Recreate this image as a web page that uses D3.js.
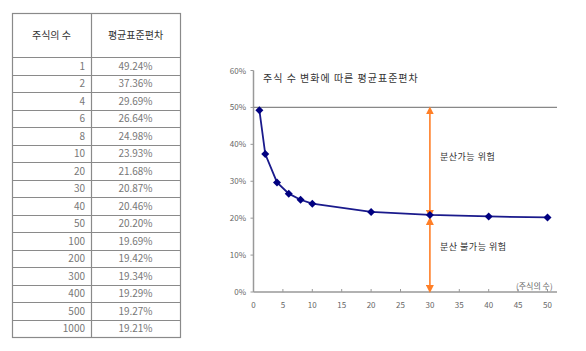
<!DOCTYPE html>
<html>
<head>
<meta charset="utf-8">
<script src="https://cdn.jsdelivr.net/npm/d3@7"></script>
<style>
  body { margin: 0; background: #fff; }
  svg text { font-family: "Noto Sans CJK KR", "Noto Sans", sans-serif; }
</style>
</head>
<body>
<div id="chart"></div>
<script>
// table data
var stockCounts = [1, 2, 4, 6, 8, 10, 20, 30, 40, 50, 100, 200, 300, 400, 500, 1000];
var avgStdDev = [49.24, 37.36, 29.69, 26.64, 24.98, 23.93, 21.68, 20.87, 20.46, 20.2, 19.69, 19.42, 19.34, 19.29, 19.27, 19.21];
var tableHeaders = ["주식의 수", "평균표준편차"];

// chart settings
var chartTitle = "주식 수 변화에 따른 평균표준편차";
var xTicks = [0, 5, 10, 15, 20, 25, 30, 35, 40, 45, 50];
var yTicks = [0, 10, 20, 30, 40, 50, 60];
var totalRiskLevel = 50;
var markerStocks = 30;
var labelDiversifiable = "분산가능 위험";
var labelSystematic = "분산 불가능 위험";
var xAxisLabel = "(주식의 수)";

var W = 586, H = 351;
var svg = d3.select("#chart").append("svg").attr("width", W).attr("height", H);

// ---- table ----
var tLeft = 12, tMid = 91, tRight = 180, tTop = 13, headH = 44, rowH = 17.5;
var tbl = svg.append("g");
var rowY = d3.scaleLinear().domain([0, stockCounts.length]).range([tTop + headH, tTop + headH + rowH * stockCounts.length]);
var tBottom = rowY(stockCounts.length);

tbl.append("rect").attr("x", tLeft + 0.5).attr("y", tTop + 0.5)
  .attr("width", tRight - tLeft).attr("height", tBottom - tTop)
  .attr("fill", "none").attr("stroke", "#8a8a8a").attr("stroke-width", 1.2);
tbl.append("line").attr("x1", tMid + 0.5).attr("x2", tMid + 0.5).attr("y1", tTop).attr("y2", tBottom)
  .attr("stroke", "#8a8a8a").attr("stroke-width", 1.2);
tbl.selectAll(".hl").data(d3.range(stockCounts.length)).enter().append("line")
  .attr("x1", tLeft).attr("x2", tRight)
  .attr("y1", function (d) { return Math.round(rowY(d)) + 0.5; })
  .attr("y2", function (d) { return Math.round(rowY(d)) + 0.5; })
  .attr("stroke", "#8a8a8a").attr("stroke-width", 1);

tbl.append("text").attr("x", (tLeft + tMid) / 2).attr("y", tTop + headH / 2 + 4)
  .attr("text-anchor", "middle").attr("font-size", 10).attr("fill", "#333").text(tableHeaders[0]);
tbl.append("text").attr("x", (tMid + tRight) / 2).attr("y", tTop + headH / 2 + 4)
  .attr("text-anchor", "middle").attr("font-size", 10).attr("fill", "#333").text(tableHeaders[1]);

tbl.selectAll(".cnt").data(stockCounts).enter().append("text")
  .attr("x", tMid - 6)
  .attr("y", function (d, i) { return rowY(i) + rowH / 2 + 4; })
  .attr("text-anchor", "end").attr("font-size", 10).attr("fill", "#777")
  .text(function (d) { return d; });
tbl.selectAll(".sd").data(avgStdDev).enter().append("text")
  .attr("x", (tMid + tRight) / 2)
  .attr("y", function (d, i) { return rowY(i) + rowH / 2 + 4; })
  .attr("text-anchor", "middle").attr("font-size", 10).attr("fill", "#777")
  .text(function (d) { return d.toFixed(2) + "%"; });

// ---- chart ----
var chartData = stockCounts.map(function (d, i) { return { n: d, sd: avgStdDev[i] }; })
  .filter(function (d) { return d.n <= 50; });

var x = d3.scaleLinear().domain([0, 50]).range([253.5, 547.5]);
var y = d3.scaleLinear().domain([0, 60]).range([292, 70.5]);
var plotRight = 557;
var g = svg.append("g");

// y axis
g.append("line").attr("x1", x(0)).attr("x2", x(0)).attr("y1", y(60)).attr("y2", y(0))
  .attr("stroke", "#999").attr("stroke-width", 1.5);
g.selectAll(".yt").data(yTicks).enter().append("line")
  .attr("x1", x(0) - 3).attr("x2", x(0))
  .attr("y1", function (d) { return y(d); }).attr("y2", function (d) { return y(d); })
  .attr("stroke", "#999");
g.selectAll(".yl").data(yTicks).enter().append("text")
  .attr("x", 246).attr("y", function (d) { return y(d) + 3; })
  .attr("text-anchor", "end").attr("font-size", 8).attr("fill", "#666")
  .text(function (d) { return d + "%"; });

// x axis
g.append("line").attr("x1", x(0)).attr("x2", plotRight).attr("y1", y(0)).attr("y2", y(0))
  .attr("stroke", "#999").attr("stroke-width", 1.5);
g.selectAll(".xt").data(xTicks).enter().append("line")
  .attr("x1", function (d) { return x(d); }).attr("x2", function (d) { return x(d); })
  .attr("y1", y(0) - 3).attr("y2", y(0))
  .attr("stroke", "#999");
g.selectAll(".xl").data(xTicks).enter().append("text")
  .attr("x", function (d) { return x(d); }).attr("y", y(0) + 16)
  .attr("text-anchor", "middle").attr("font-size", 8).attr("fill", "#666")
  .text(function (d) { return d; });

// 50% reference line
g.append("line").attr("x1", x(0)).attr("x2", plotRight)
  .attr("y1", y(totalRiskLevel)).attr("y2", y(totalRiskLevel))
  .attr("stroke", "#888").attr("stroke-width", 1.2);

// title
g.append("text").attr("x", 263).attr("y", 82).attr("font-size", 10).attr("fill", "#333")
  .attr("letter-spacing", 1).text(chartTitle);

// orange arrows
var defs = svg.append("defs");
function head(id, orient) {
  defs.append("marker").attr("id", id).attr("viewBox", "0 0 6 6").attr("refX", 3).attr("refY", 3)
    .attr("markerWidth", 5).attr("markerHeight", 5).attr("orient", orient)
    .append("path").attr("d", "M0,0L6,3L0,6Z").attr("fill", "#ff7f27");
}
head("arrEnd", "auto");
head("arrStart", "auto-start-reverse");
var sys = chartData.find(function (d) { return d.n === markerStocks; }).sd;
g.append("line").attr("x1", x(markerStocks)).attr("x2", x(markerStocks))
  .attr("y1", y(totalRiskLevel) + 3).attr("y2", y(sys) - 1)
  .attr("stroke", "#ff7f27").attr("stroke-width", 1.6)
  .attr("marker-start", "url(#arrStart)").attr("marker-end", "url(#arrEnd)");
g.append("line").attr("x1", x(markerStocks)).attr("x2", x(markerStocks))
  .attr("y1", y(sys) + 6).attr("y2", y(0) - 3)
  .attr("stroke", "#ff7f27").attr("stroke-width", 1.6)
  .attr("marker-start", "url(#arrStart)").attr("marker-end", "url(#arrEnd)");

g.append("text").attr("x", 440).attr("y", 160).attr("font-size", 9).attr("fill", "#333")
  .attr("letter-spacing", 0.5).text(labelDiversifiable);
g.append("text").attr("x", 440).attr("y", 250).attr("font-size", 9).attr("fill", "#333")
  .attr("letter-spacing", 0.5).text(labelSystematic);
g.append("text").attr("x", 516).attr("y", 289).attr("font-size", 8).attr("fill", "#666")
  .text(xAxisLabel);

// data line
var line = d3.line().x(function (d) { return x(d.n); }).y(function (d) { return y(d.sd); });
g.append("path").datum(chartData).attr("d", line)
  .attr("fill", "none").attr("stroke", "#1a1a8c").attr("stroke-width", 1.8);
g.selectAll(".pt").data(chartData).enter().append("path")
  .attr("d", d3.symbol().type(d3.symbolSquare).size(32))
  .attr("transform", function (d) { return "translate(" + x(d.n) + "," + y(d.sd) + ") rotate(45)"; })
  .attr("fill", "#000080");
</script>
</body>
</html>
